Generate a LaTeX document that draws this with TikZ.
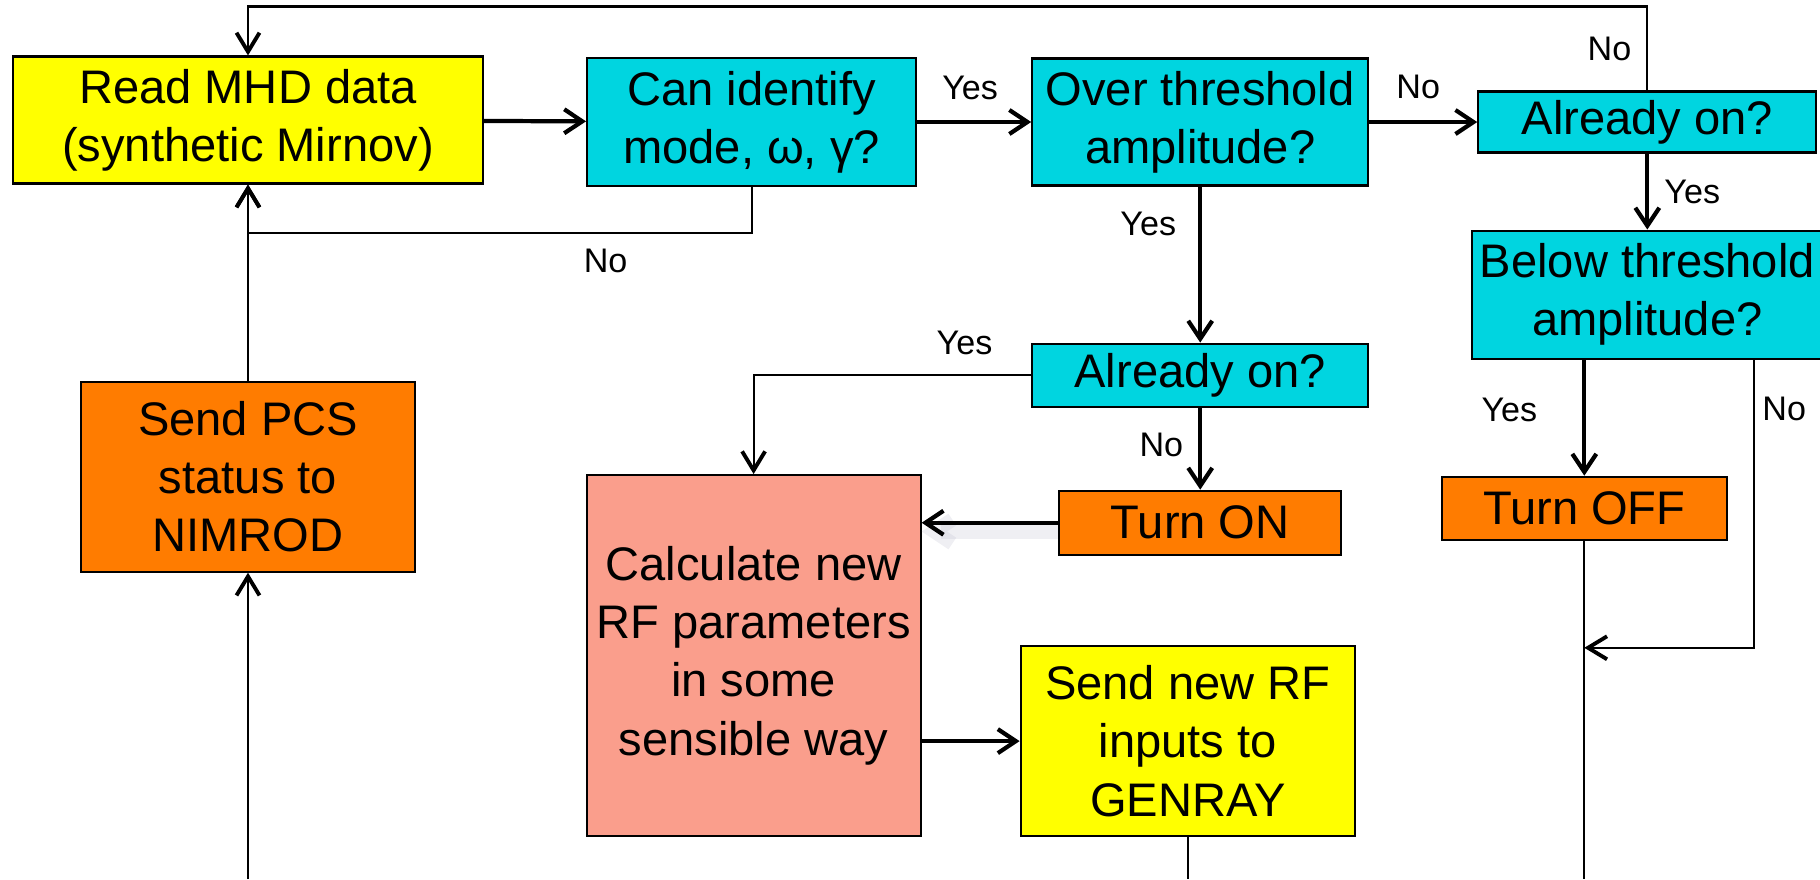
\documentclass[tikz,border=0pt]{standalone}
\usepackage{fontspec}
\setmainfont{Liberation Sans}
\usetikzlibrary{arrows.meta, positioning, calc}

\definecolor{mhdyellow}{RGB}{255,255,0}
\definecolor{querycyan}{RGB}{0,213,224}
\definecolor{actorange}{RGB}{255,124,0}
\definecolor{calcsalmon}{RGB}{250,158,140}

\begin{document}
\begin{tikzpicture}[
    box/.style={rectangle, draw, line width=0.6pt, inner sep=0pt, text centered, align=center, font=\fontsize{13.4}{16.6}\selectfont},
    query/.style={box, fill=querycyan},
    action/.style={box, fill=actorange},
    data/.style={box, fill=mhdyellow},
    arrow/.style={-{Straight Barb[length=1.8mm, width=2.4mm]}, line width=1.2pt},
    link/.style={-{Straight Barb[length=1.9mm, width=2.3mm, line width=1.1pt 0]}, line width=0.6pt},
    wire/.style={line width=0.6pt},
    lbl/.style={font=\fontsize{9.7}{11}\selectfont, inner sep=0.15cm}
]
\useasboundingbox (0,0) rectangle (18.2,-8.79);

% Input Data
\node[data, minimum width=4.70cm, minimum height=1.27cm] (read_mhd) at (2.48,-1.20) {Read MHD data\\(synthetic Mirnov)};

% Decisions along the top
\node[query, minimum width=3.29cm, minimum height=1.28cm, right=1.02cm of read_mhd, yshift=-0.02cm] (identify) {Can identify\\mode, ω, γ?};
\node[query, minimum width=3.36cm, minimum height=1.27cm, right=1.14cm of identify] (over_thr) {Over threshold\\amplitude?};
\node[query, minimum width=3.38cm, minimum height=0.61cm, right=1.08cm of over_thr] (on_right) {Already on?};
\node[query, minimum width=3.50cm, minimum height=1.28cm, below=0.76cm of on_right] (below_thr) {Below threshold\\amplitude?};

% Switching
\node[query, minimum width=3.36cm, minimum height=0.63cm, below=1.56cm of over_thr] (on_mid) {Already on?};
\node[action, minimum width=2.82cm, minimum height=0.64cm, below=0.82cm of on_mid] (turn_on) {Turn ON};
\node[action, minimum width=2.85cm, minimum height=0.63cm, below=1.16cm of below_thr, xshift=-0.63cm] (turn_off) {Turn OFF};

% RF update
\node[box, fill=calcsalmon, minimum width=3.34cm, minimum height=3.61cm, below=2.87cm of identify, xshift=0.02cm] (calc_rf) {Calculate new\\RF parameters\\in some\\sensible way};
\node[data, minimum width=3.34cm, minimum height=1.90cm, right=0.98cm of calc_rf, yshift=-0.855cm] (send_rf) {Send new RF\\inputs to\\GENRAY};

% PCS status
\node[action, minimum width=3.34cm, minimum height=1.90cm, below=1.96cm of read_mhd] (send_pcs) {Send PCS\\status to\\NIMROD};

% Ends leaving the picture
\coordinate (off_join) at ([yshift=-1.07cm]turn_off.south);
\coordinate (off_out) at (turn_off.south |- 0,-8.79);
\coordinate (rf_out) at (send_rf.south |- 0,-8.79);
\coordinate (pcs_in) at (send_pcs.south |- 0,-8.79);

% Arrow Connections
\draw[arrow] (read_mhd) -- (identify);
\draw[arrow] (identify) -- node[above, lbl, yshift=0.05cm, xshift=-0.04cm] {Yes} (over_thr);
\draw[arrow] (over_thr) -- node[above, lbl, yshift=0.06cm, xshift=-0.05cm] {No} (on_right);
\draw[arrow] (on_right) -- node[right, lbl] {Yes} (below_thr);
\draw[arrow] (over_thr) -- node[left, lbl, pos=0.24, xshift=-0.07cm] {Yes} (on_mid);
\draw[arrow] (on_mid) -- node[left, lbl, pos=0.45] {No} (turn_on);
\draw[arrow, preaction={draw=blue!25!black!25, draw opacity=0.25, line width=4pt, transform canvas={yshift=-2.5pt}}] (turn_on) -- (calc_rf.east |- turn_on.west);
\draw[arrow] (calc_rf.east |- send_rf.west) -- (send_rf);
\draw[arrow] (below_thr.south -| turn_off.north) -- node[left, lbl, pos=0.43, xshift=-0.3cm] {Yes} (turn_off);

% Loops back
\draw[link] (on_right.north) -- node[left, lbl] {No} ++(0,0.84) -| (read_mhd.north);
\draw[link] (identify.south) -- ++(0,-0.46) -| node[below, lbl, pos=0.145] {No} (read_mhd.south);
\draw[link] (send_pcs) -- (read_mhd);
\draw[link] (on_mid.west) -| node[above, lbl, pos=0.12, yshift=0.04cm] {Yes} (calc_rf.north);
\draw[link] ([xshift=-0.69cm]below_thr.south east) |- node[right, lbl, pos=0.086, xshift=-0.08cm] {No} (off_join);

\draw[wire] (turn_off) -- (off_out);
\draw[wire] (send_rf) -- (rf_out);
\draw[link] (pcs_in) -- (send_pcs);
\end{tikzpicture}
\end{document}
